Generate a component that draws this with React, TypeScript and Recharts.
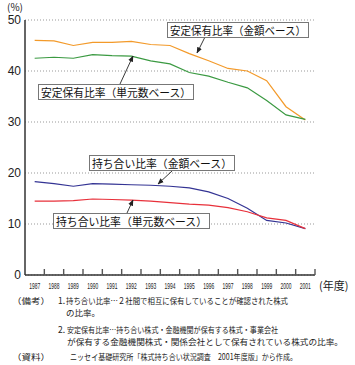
import { CartesianGrid, Line, LineChart, XAxis, YAxis } from "recharts";

const years = [1987, 1988, 1989, 1990, 1991, 1992, 1993, 1994, 1995, 1996, 1997, 1998, 1999, 2000, 2001];

// 安定保有比率
const anteiKingaku = [46.0, 45.9, 45.0, 45.6, 45.6, 45.8, 45.2, 45.0, 43.4, 42.0, 40.5, 40.0, 38.1, 33.0, 30.4];
const anteiTangen = [42.5, 42.7, 42.5, 43.2, 43.0, 42.9, 42.0, 41.4, 39.7, 39.0, 37.8, 36.7, 34.2, 31.4, 30.5];
// 持ち合い比率
const mochiaiKingaku = [18.3, 17.9, 17.4, 17.9, 17.8, 17.7, 17.6, 17.4, 17.1, 16.3, 15.0, 13.1, 10.7, 10.2, 9.1];
const mochiaiTangen = [14.5, 14.5, 14.6, 14.9, 14.8, 14.7, 14.5, 14.2, 13.9, 13.7, 13.2, 12.4, 11.2, 10.7, 9.1];

const yTicks = [0, 10, 20, 30, 40, 50];

const data = years.map((year, i) => ({
  year,
  anteiKingaku: anteiKingaku[i],
  anteiTangen: anteiTangen[i],
  mochiaiKingaku: mochiaiKingaku[i],
  mochiaiTangen: mochiaiTangen[i],
}));

const COLORS = {
  anteiKingaku: "#f39a2a",
  anteiTangen: "#3b9a42",
  mochiaiKingaku: "#343494",
  mochiaiTangen: "#e8303a",
  axis: "#333",
  grid: "#999",
  text: "#222",
};

const JP = '"Noto Sans CJK JP", "Noto Sans", sans-serif';
const LATIN = '"Liberation Sans", Arial, sans-serif';

const PLOT_LEFT = 25;
const PLOT_RIGHT = 315;
const BAND = (PLOT_RIGHT - PLOT_LEFT) / years.length;

function YearTick(props: any) {
  const { x, y, payload, index } = props;
  const isLast = index === years.length - 1;
  return (
    <g>
      {index > 0 && (
        <line x1={x - BAND / 2} x2={x - BAND / 2} y1={y} y2={y - 6} stroke="#555" strokeWidth={1.4} />
      )}
      {isLast && (
        <line x1={x + BAND / 2} x2={x + BAND / 2} y1={y} y2={y - 6} stroke="#555" strokeWidth={1.4} />
      )}
      <text
        x={x - 5.5}
        y={y + 14}
        fontSize={9}
        fontFamily={LATIN}
        fill={COLORS.text}
        textLength={11}
        lengthAdjust="spacingAndGlyphs"
      >
        {payload.value}
      </text>
    </g>
  );
}

function Callout({
  x,
  y,
  w,
  label,
  from,
  to,
}: {
  x: number;
  y: number;
  w: number;
  label: string;
  from: [number, number];
  to: [number, number];
}) {
  return (
    <g>
      <line
        x1={from[0]}
        y1={from[1]}
        x2={to[0]}
        y2={to[1]}
        stroke="#222"
        strokeWidth={0.9}
        markerEnd="url(#arrow)"
      />
      <rect x={x + 0.5} y={y + 0.5} width={w} height={15} fill="#fff" stroke="#777" strokeWidth={1} />
      <text
        x={x + 3}
        y={y + 12.5}
        fontSize={11}
        fontFamily={JP}
        fill="#111"
        textLength={w - 5}
        lengthAdjust="spacingAndGlyphs"
      >
        {label}
      </text>
    </g>
  );
}

const noteStyle = { fontSize: 8.5, fontFamily: JP, fill: COLORS.text };

export default function App() {
  return (
    <div style={{ position: "absolute", left: 0, top: 0, width: 355, height: 365, background: "#fff" }}>
      <LineChart
        width={355}
        height={290}
        data={data}
        margin={{ top: 20, right: 355 - PLOT_RIGHT, bottom: 0, left: 0 }}
      >
        <CartesianGrid
          vertical={false}
          stroke={COLORS.grid}
          strokeDasharray="1 2"
        />
        <XAxis
          dataKey="year"
          type="number"
          domain={[years[0] - 0.5, years[years.length - 1] + 0.5]}
          ticks={years}
          interval={0}
          height={15}
          tickSize={0}
          tickMargin={0}
          tickLine={false}
          axisLine={{ stroke: COLORS.axis, strokeWidth: 1.5 }}
          tick={<YearTick />}
        />
        <YAxis
          domain={[0, 50]}
          ticks={yTicks}
          width={PLOT_LEFT}
          tickSize={0}
          tickMargin={4}
          tickLine={false}
          axisLine={{ stroke: COLORS.axis, strokeWidth: 1.5 }}
          tick={{ fontSize: 12, fontFamily: LATIN, fill: COLORS.text }}
        />
        <Line dataKey="anteiKingaku" stroke={COLORS.anteiKingaku} strokeWidth={1.2} dot={false} isAnimationActive={false} />
        <Line dataKey="anteiTangen" stroke={COLORS.anteiTangen} strokeWidth={1.2} dot={false} isAnimationActive={false} />
        <Line dataKey="mochiaiKingaku" stroke={COLORS.mochiaiKingaku} strokeWidth={1.2} dot={false} isAnimationActive={false} />
        <Line dataKey="mochiaiTangen" stroke={COLORS.mochiaiTangen} strokeWidth={1.2} dot={false} isAnimationActive={false} />
      </LineChart>

      <svg
        width={355}
        height={365}
        style={{ position: "absolute", left: 0, top: 0, pointerEvents: "none" }}
      >
        <defs>
          <marker id="arrow" viewBox="0 0 10 10" refX="9" refY="5" markerWidth="7" markerHeight="7" orient="auto">
            <path d="M0,1 L10,5 L0,9 z" fill="#222" />
          </marker>
        </defs>

        <text x={7} y={11} fontSize={10} fontFamily={JP} fill={COLORS.text}>(%)</text>
        <text x={319} y={290} fontSize={11} fontFamily={JP} fill={COLORS.text}>(年度)</text>

        <Callout x={167} y={22} w={141} label="安定保有比率（金額ベース）" from={[205, 37]} to={[197, 53]} />
        <Callout x={38} y={84} w={155} label="安定保有比率（単元数ベース）" from={[120, 84]} to={[133, 56]} />
        <Callout x={89} y={155} w={145} label="持ち合い比率（金額ベース）" from={[172, 171]} to={[158, 184]} />
        <Callout x={53} y={213} w={156} label="持ち合い比率（単元数ベース）" from={[127, 213]} to={[133, 200]} />

        <text x={12} y={304} {...noteStyle} textLength={38} lengthAdjust="spacingAndGlyphs">（備考）</text>
        <text x={58} y={304} {...noteStyle}>1.</text>
        <text x={66} y={304} {...noteStyle} textLength={222} lengthAdjust="spacingAndGlyphs">
          持ち合い比率…２社間で相互に保有していることが確認された株式
        </text>
        <text x={66} y={316} {...noteStyle}>の比率。</text>
        <text x={58} y={333} {...noteStyle}>2.</text>
        <text x={67} y={333} {...noteStyle} textLength={211} lengthAdjust="spacingAndGlyphs">
          安定保有比率…持ち合い株式・金融機関が保有する株式・事業会社
        </text>
        <text x={67} y={345} {...noteStyle} textLength={276} lengthAdjust="spacingAndGlyphs">
          が保有する金融機関株式・関係会社として保有されている株式の比率。
        </text>
        <text x={12} y={360} {...noteStyle} textLength={38} lengthAdjust="spacingAndGlyphs">（資料）</text>
        <text x={70} y={360} {...noteStyle} textLength={227} lengthAdjust="spacingAndGlyphs">
          ニッセイ基礎研究所「株式持ち合い状況調査　2001年度版」から作成。
        </text>
      </svg>
    </div>
  );
}
